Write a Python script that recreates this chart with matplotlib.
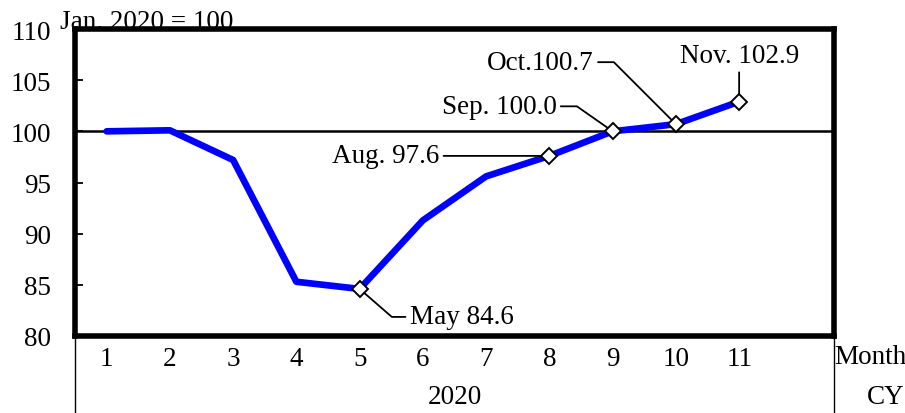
import matplotlib
matplotlib.use('Agg')
import matplotlib.pyplot as plt

# index values, Jan. 2020 = 100
months = [1, 2, 3, 4, 5, 6, 7, 8, 9, 10, 11]
index_vals = [100.0, 100.1, 97.2, 85.3, 84.6, 91.3, 95.6, 97.6, 100.0, 100.7, 102.9]
month_labels = ['1', '2', '3', '4', '5', '6', '7', '8', '9', '10', '11']
year_label = '2020'

# labelled points: (month, text)
callouts = [
    (5, 'May 84.6'),
    (8, 'Aug. 97.6'),
    (9, 'Sep. 100.0'),
    (10, 'Oct.100.7'),
    (11, 'Nov. 102.9'),
]

plt.rcParams['font.family'] = ['Liberation Serif', 'DejaVu Serif']
FS = 19.5

W, H = 905, 414
fig = plt.figure(figsize=(W / 100, H / 100), dpi=100)
left, right, top, bottom = 75, 834, 30, 337
ax = fig.add_axes([left / W, 1 - bottom / H, (right - left) / W, (bottom - top) / H])

ax.set_xlim(0.5, 12.5)
ax.set_ylim(80, 110)

ax.axhline(100, color='black', lw=1.8, zorder=1)
ax.plot(months, index_vals, color='#0000ff', lw=4.8, solid_capstyle='round',
        solid_joinstyle='round', zorder=2)

mk_x = [m for m, _ in callouts]
mk_y = [index_vals[months.index(m)] for m in mk_x]
ax.plot(mk_x, mk_y, ls='none', marker='D', ms=8, mfc='white', mec='black',
        mew=1.4, zorder=5)

# leader-line styles per label: offset (px), alignment, connection
styles = {
    5: ((50, -28), 'left', 'angle,angleA=0,angleB=-41,rad=0'),
    8: ((-110, 0), 'right', 'arc3'),
    9: ((-56, 25), 'right', 'angle,angleA=0,angleB=-35,rad=0'),
    10: ((-82, 62), 'right', 'angle,angleA=0,angleB=-45,rad=0'),
    11: ((0, 46), 'center', 'arc3'),
}
for m, txt in callouts:
    off, ha, cs = styles[m]
    y = index_vals[months.index(m)]
    ax.annotate(txt, xy=(m, y), xytext=off, textcoords='offset pixels',
                ha=ha, va='center', fontsize=FS,
                arrowprops=dict(arrowstyle='-', color='black', lw=1.3,
                                connectionstyle=cs, shrinkA=1, shrinkB=0),
                zorder=4)

for s in ax.spines.values():
    s.set_linewidth(4)
    s.set_color('black')

ax.set_yticks(range(80, 111, 5))
ax.tick_params(axis='y', direction='in', length=6, width=1.3, pad=17,
               labelsize=FS)
ax.set_xticks(months)
ax.set_xticklabels(month_labels)
ax.tick_params(axis='x', length=0, pad=7, labelsize=FS)

# category table lines below the plot
depth = (H - bottom + 2) / (bottom - top)
for xa in (0, 1):
    ax.plot([xa, xa], [0, -depth], transform=ax.transAxes, color='black',
            lw=1, clip_on=False)

fig.text(0.5 * (left + right) / W, 1 - 398 / H, year_label, ha='center',
         va='center', fontsize=FS)
fig.text(870 / W, 1 - 358 / H, 'Month', ha='center', va='center', fontsize=FS)
fig.text(904 / W, 1 - 398 / H, 'CY', ha='right', va='center', fontsize=FS)
fig.text(60 / W, 1 - 29 / H, 'Jan. 2020 = 100', ha='left', va='baseline',
         fontsize=FS)

fig.savefig('out.png', dpi=100)
